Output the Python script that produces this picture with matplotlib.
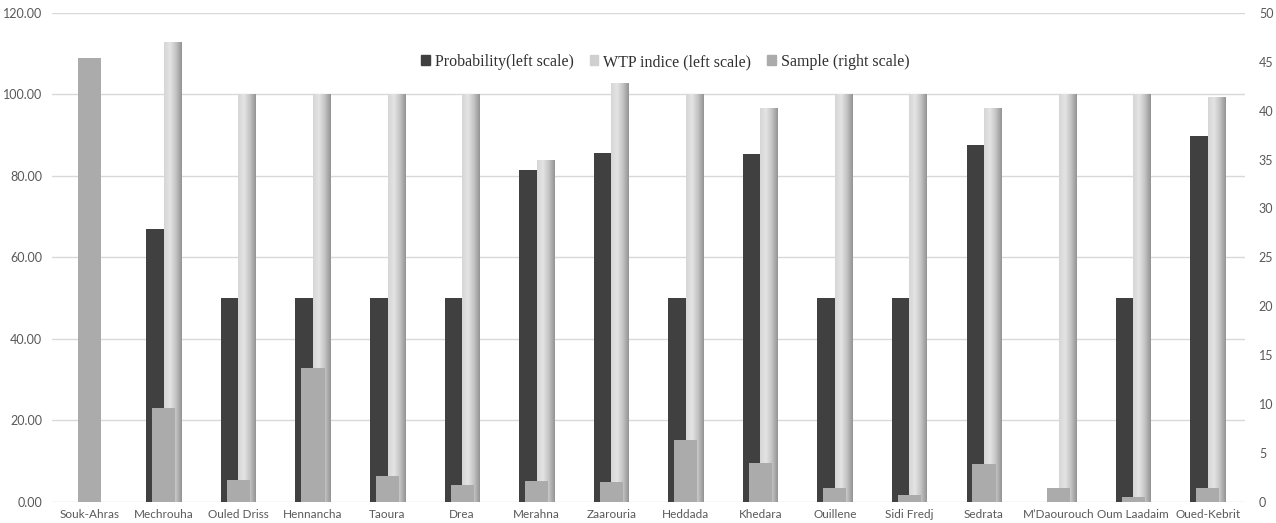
import numpy as np
import matplotlib
matplotlib.use("Agg")
import matplotlib.pyplot as plt
from matplotlib.colors import LinearSegmentedColormap
from matplotlib.patches import Patch

# Data
towns = ["Souk-Ahras", "Mechrouha", "Ouled Driss", "Hennancha", "Taoura", "Drea",
         "Merahna", "Zaarouria", "Heddada", "Khedara", "Ouillene", "Sidi Fredj",
         "Sedrata", "M\u2019Daourouch", "Oum Laadaim", "Oued-Kebrit"]
probability = [0, 66.9, 50, 50, 50, 50, 81.5, 85.7, 50, 85.4, 50, 50, 87.6, 0, 50, 89.7]
wtp_indice = [0, 112.8, 100, 100, 100, 100, 84.0, 102.9, 100, 96.8, 100, 100, 96.7, 100, 100, 99.4]
sample = [45.4, 9.6, 2.2, 13.7, 2.6, 1.75, 2.1, 2.05, 6.3, 4.0, 1.4, 0.65, 3.9, 1.45, 0.5, 1.45]

left_ticks = np.arange(0, 121, 20)
right_ticks = np.arange(0, 51, 5)

dark = "#404040"
light = "#d4d4d4"
mid = "#ababab"
grid_col = "#d9d9d9"
tick_col = "#595959"

fig = plt.figure(figsize=(12.76, 5.23), dpi=100)
ax = fig.add_axes([0.0408, 0.0407, 0.9349, 0.9344])
ax2 = ax.twinx()

x = np.arange(len(towns))
w = 0.235

ax.bar(x - w / 2, probability, width=w, color=dark, zorder=2)
wtp_bars = ax.bar(x + w / 2, wtp_indice, width=w, color=light, zorder=2)

# horizontal shading on the WTP bars
grad = LinearSegmentedColormap.from_list("g", ["#d6d6d6", "#e4e4e4", "#c4c4c4", "#939393"])
gvals = np.linspace(0, 1, 64).reshape(1, -1)
for b in wtp_bars:
    if b.get_height() <= 0:
        continue
    im = ax.imshow(gvals, cmap=grad, aspect="auto", zorder=2.5,
                   extent=[b.get_x(), b.get_x() + b.get_width(), 0, b.get_height()])
    im.set_clip_path(b)

ax2.bar(x, sample, width=0.31, color=mid, zorder=3)

ax.set_xlim(-0.5, len(towns) - 0.5)
ax.set_ylim(0, 120)
ax2.set_ylim(0, 50)
ax.set_yticks(left_ticks)
ax.set_yticklabels([f"{t:.2f}" for t in left_ticks])
ax2.set_yticks(right_ticks)
ax.set_xticks(x)
ax.set_xticklabels(towns)

ax.grid(axis="y", color=grid_col, linewidth=1, zorder=0)
ax.set_axisbelow(True)
for a in (ax, ax2):
    for s in a.spines.values():
        s.set_visible(False)
    a.tick_params(length=0, colors=tick_col, labelsize=9)
    for lab in a.get_xticklabels() + a.get_yticklabels():
        lab.set_fontfamily("Lato")
ax.tick_params(axis="x", labelsize=8.5, pad=5)
ax.tick_params(axis="y", pad=7)
ax2.tick_params(axis="y", pad=10)

handles = [Patch(color=dark), Patch(color="#d0d0d0"), Patch(color=mid)]
labels = ["Probability(left scale)", "WTP indice (left scale)", "Sample (right scale)"]
ax2.legend(handles, labels, loc="center", bbox_to_anchor=(0.514, 0.9), ncol=3,
           frameon=False, handlelength=0.55, handleheight=0.55, handletextpad=0.3,
           columnspacing=1.0, prop={"family": "Liberation Serif", "size": 11.5},
           labelcolor="#303030")

fig.savefig("out.png", dpi=100, facecolor="white")
